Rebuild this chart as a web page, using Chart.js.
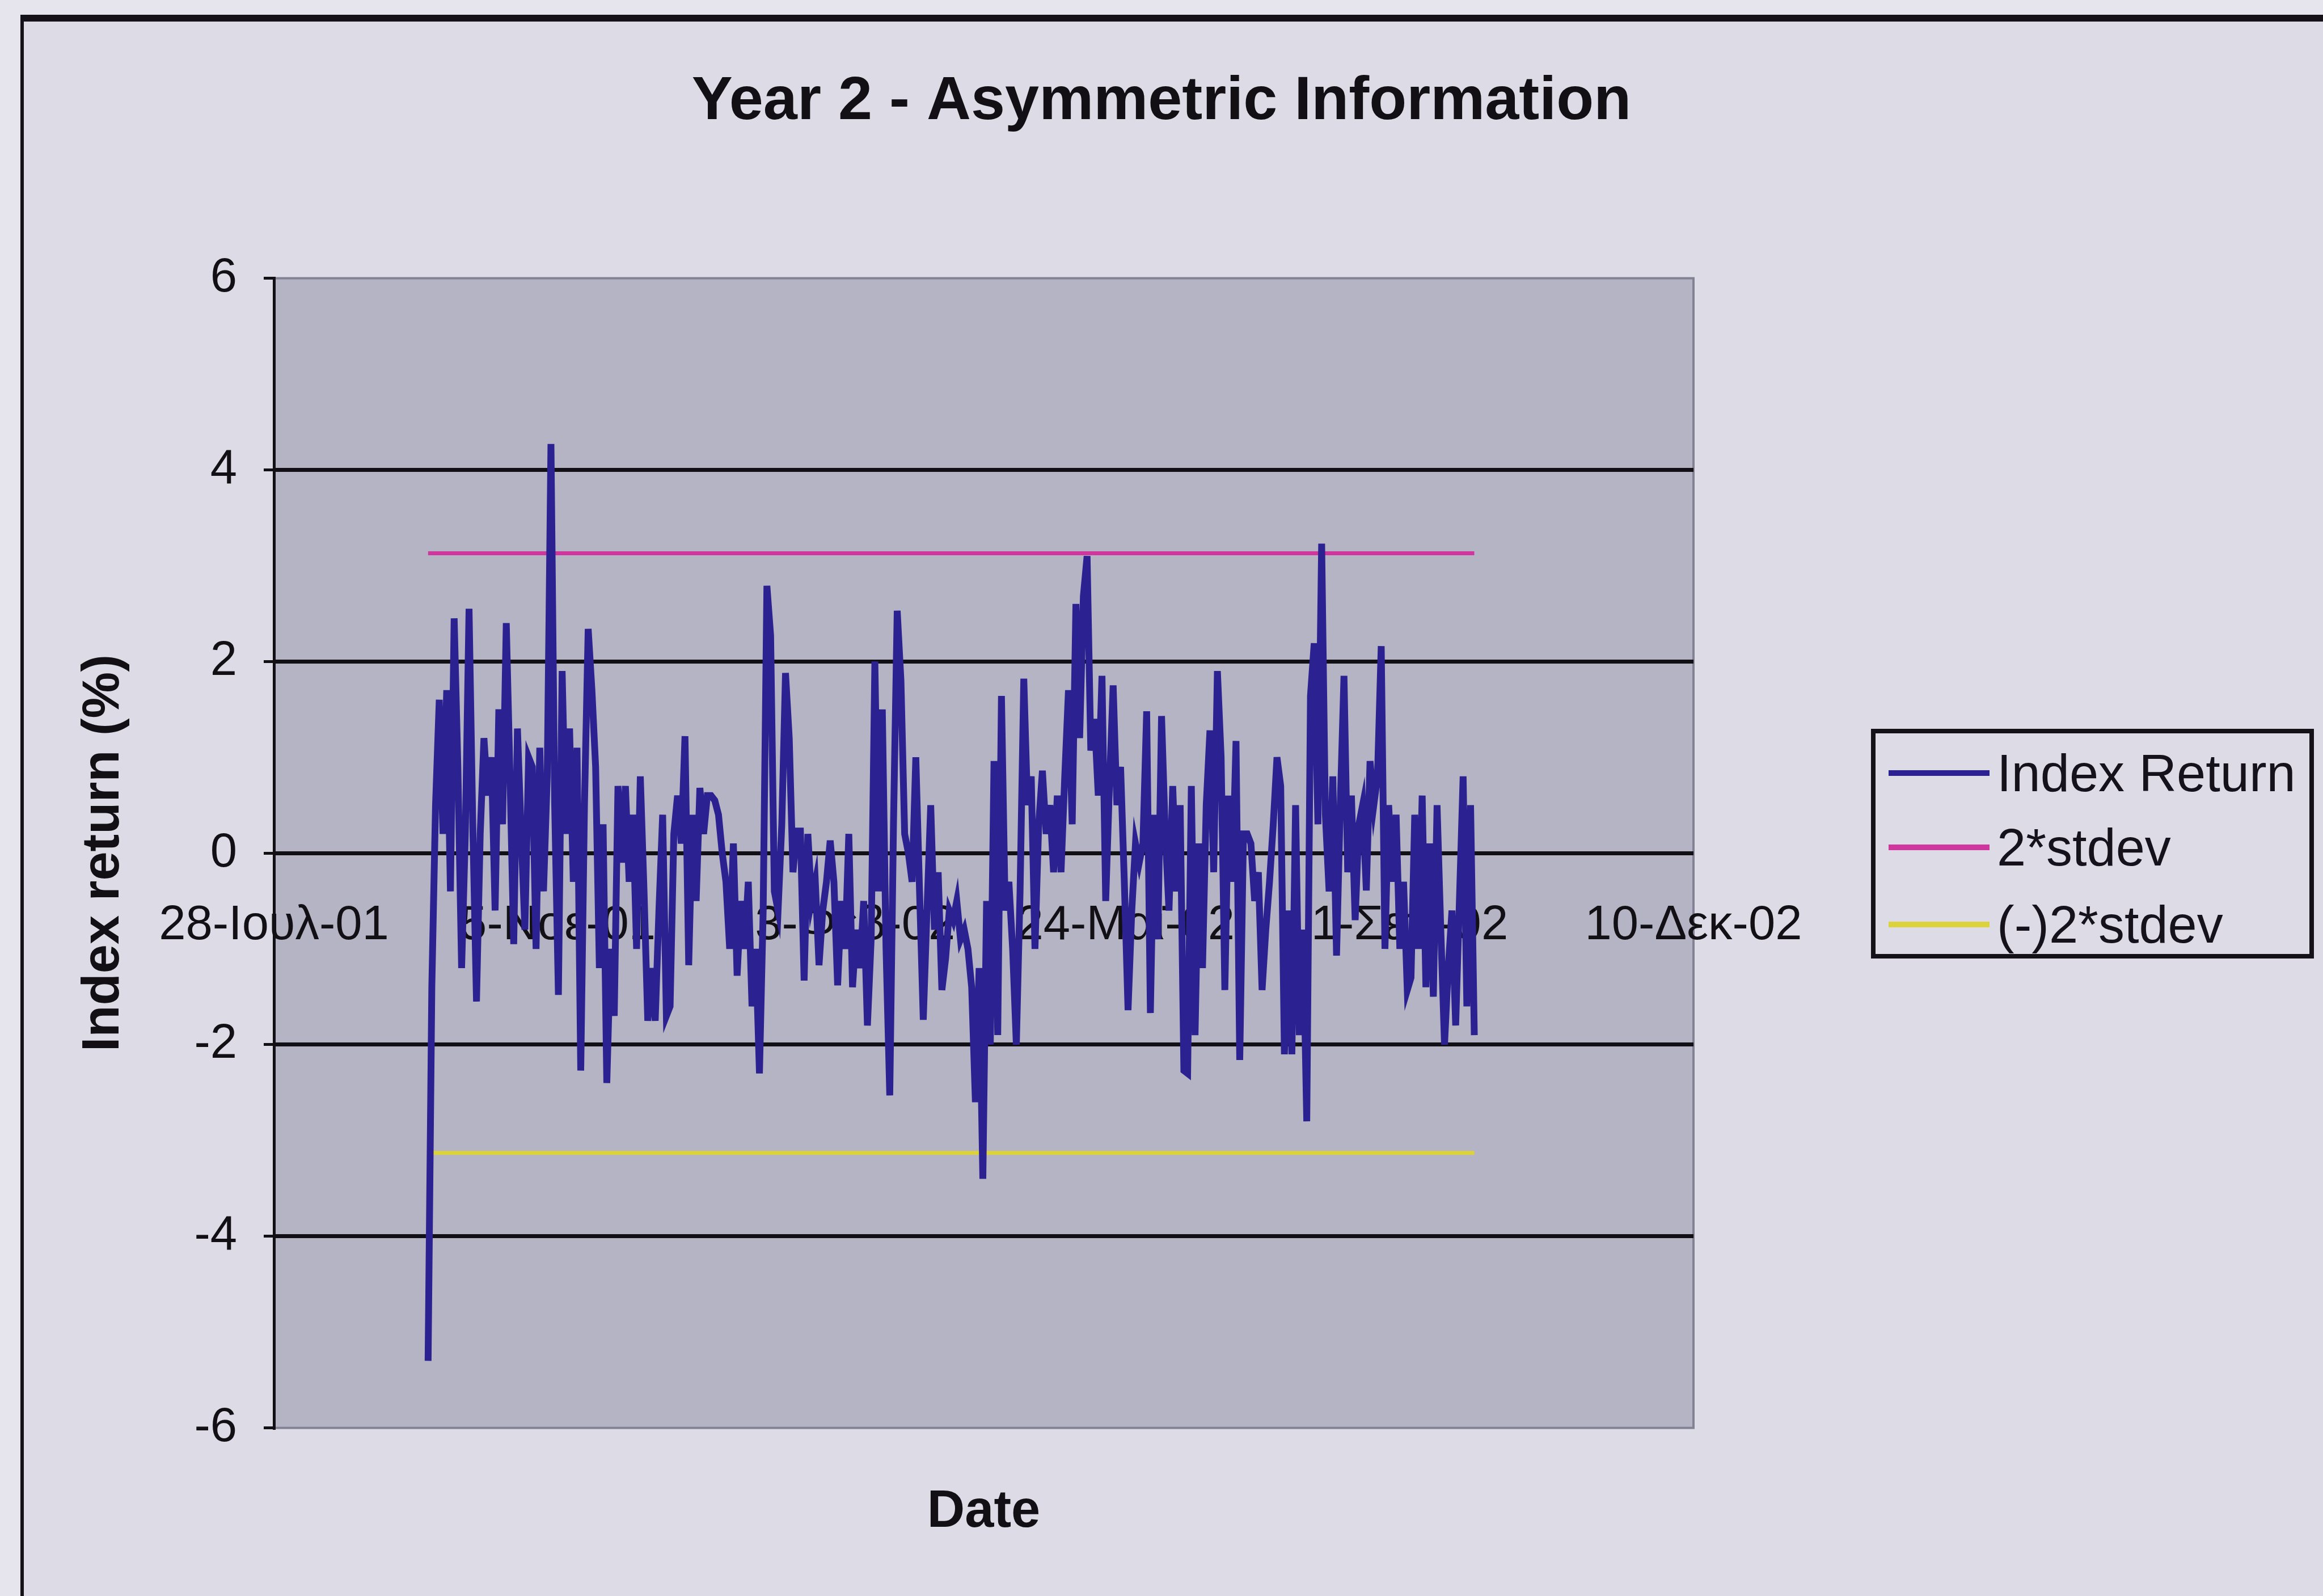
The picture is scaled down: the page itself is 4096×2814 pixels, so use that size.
<!DOCTYPE html>
<html>
<head>
<meta charset="utf-8">
<title>Year 2 - Asymmetric Information</title>
<script src="https://cdn.jsdelivr.net/npm/chart.js@4.4.1/dist/chart.umd.min.js"></script>
<style>
  html, body { margin: 0; padding: 0; background: #e6e5ee; overflow: hidden; }
  #frame { position: absolute; left: 36px; top: 26px; width: 4100px; height: 2830px;
           background: #dcdbe6; border-left: 6px solid #141218; border-top: 12px solid #141218; }
  #chart { position: absolute; left: 0; top: 0; }
  #legend { position: absolute; left: 3299px; top: 1285px; width: 765px; height: 389px;
            border: 8px solid #141218; background: #dcdbe6; font-family: "Liberation Sans", Arial, sans-serif; }
  #legend .row { position: absolute; left: 0; height: 110px; width: 100%; }
  #legend .swatch { position: absolute; left: 23px; top: 50px; width: 178px; height: 10px; }
  #legend .txt { position: absolute; left: 214px; top: 0; line-height: 110px; font-size: 92px; color: #15121c; white-space: nowrap; }
</style>
</head>
<body>
<div id="frame"></div>
<canvas id="chart" width="4096" height="2814"></canvas>
<div id="legend"></div>
<script>
// ejes
const tickDays = [0, 100, 200, 300, 400, 500];          // días desde 28-Ιουλ-01
const tickLabels = ["28-Ιουλ-01", "5-Νοε-01", "13-Φεβ-02", "24-Μαϊ-02", "1-Σεπ-02", "10-Δεκ-02"];
const yTicks = [-6, -4, -2, 0, 2, 4, 6];

// primer y último día con datos
const firstDay = 54.3;
const lastDay = 422.8;

// rendimiento diario del índice (%)
const indexReturn = [
  -5.3, -1.4, 0.5, 1.6,   0.2, 1.7, -0.4, 2.45,   0.9, -1.2, 0.2, 2.55,   0.3, -1.55, 0.2, 1.2,
  0.6, 1.0, -0.6, 1.5,    0.3, 2.4, 0.8, -0.95,   1.3, 0.2, -0.8, 1.0,    0.9, -1.0, 1.1, -0.4,
  0.8, 4.27, 0.5, -1.48,  1.9, 0.2, 1.3, -0.3,    1.1, -2.27, 0.5, 2.34,  1.7, 0.9, -1.2, 0.3,
  -2.4, -1.0, -1.7, 0.7,  -0.1, 0.7, -0.3, 0.4,   -1.0, 0.8, -0.4, -1.75, -1.2, -1.75, -0.6, 0.4,
  -1.7, -1.6, 0.2, 0.6,   0.1, 1.22, -1.17, 0.4,  -0.5, 0.68, 0.2, 0.6,   0.6, 0.55, 0.4, 0.0,
  -0.3, -1.0, 0.1, -1.28, -0.5, -1.0, -0.3, -1.6, -1.0, -2.3, -0.6, 2.79, 2.27, -0.4, -0.6, 0.3,
  1.88, 1.2, -0.2, 0.23,  0.23, -1.33, 0.2, -0.5, -0.3, -1.17, -0.6, -0.3, 0.13, -0.3, -1.38, -0.5,
  -1.0, 0.2, -1.4, -0.8,  -1.2, -0.5, -1.8, -0.9, 2.0, -0.4, 1.5, -1.0,   -2.53, 0.3, 2.53, 1.8,
  0.2, 0.0, -0.3, 1.0,    -0.4, -1.74, -0.6, 0.5, -0.8, -0.2, -1.43, -1.1, -0.6, -0.7, -0.5, -0.9,
  -0.8, -1.0, -1.4, -2.6, -1.2, -3.4, -0.5, -2.0, 0.96, -1.9, 1.64, -0.6, -0.3, -1.0, -2.0, -0.4,
  1.82, 0.5, 0.8, -1.0,   0.3, 0.86, 0.2, 0.5,    -0.2, 0.6, -0.2, 0.8,   1.7, 0.3, 2.6, 1.2,
  2.68, 3.1, 1.07, 1.4,   0.6, 1.85, -0.5, 0.7,   1.75, 0.5, 0.9, -0.3,   -1.64, -0.6, 0.1, -0.1,
  0.1, 1.48, -1.67, 0.4,  -0.9, 1.43, 0.2, -0.6,  0.7, -0.4, 0.5, -2.27,  -2.3, 0.7, -1.9, 0.1,
  -1.2, 0.5, 1.28, -0.2,  1.9, 1.0, -1.43, 0.6,   -0.3, 1.17, -2.16, 0.2, 0.2, 0.1, -0.5, -0.2,
  -1.43, -0.8, -0.3, 0.3, 1.0, 0.7, -2.1, -0.6,   -2.1, 0.5, -1.9, -0.8,  -2.8, 1.64, 2.19, 0.3,
  3.23, 0.4, -0.4, 0.8,   -1.07, 0.5, 1.85, -0.2, 0.6, -0.7, 0.3, 0.5,    -0.39, 0.96, 0.5, 0.8,
  2.16, -1.0, 0.5, -0.3,  0.4, -1.0, -0.3, -1.43, -1.3, 0.4, -1.0, 0.6,   -1.4, 0.1, -1.5, 0.5,
  -0.8, -2.0, -1.2, -0.6, -1.8, -0.5, 0.8, -1.6,  0.5, -1.9
];

// bandas de 2 desviaciones estándar
const stdevUp = 3.13;
const stdevDown = -3.13;

const seriesNames = ["Index Return", "2*stdev", "(-)2*stdev"];
const seriesColors = ["#2b2191", "#cf379f", "#dcd23c"];

const font = "'Liberation Sans', Arial, sans-serif";
const negro = "#121014";

const paso = (lastDay - firstDay) / (indexReturn.length - 1);
const puntos = indexReturn.map((v, i) => ({ x: firstDay + i * paso, y: v }));

const fondoGrafico = {
  id: "fondoGrafico",
  beforeDraw(chart) {
    const { ctx, chartArea: a } = chart;
    ctx.save();
    ctx.fillStyle = "#b5b4c4";
    ctx.fillRect(a.left, a.top, a.width, a.height);
    ctx.strokeStyle = "#838295";
    ctx.lineWidth = 4;
    ctx.strokeRect(a.left, a.top, a.width, a.height);
    ctx.restore();
  }
};

const chart = new Chart(document.getElementById("chart"), {
  type: "line",
  data: {
    datasets: [
      {
        label: seriesNames[0],
        data: puntos,
        borderColor: seriesColors[0],
        borderWidth: 12,
        pointRadius: 0,
        tension: 0
      },
      {
        label: seriesNames[1],
        data: [{ x: firstDay, y: stdevUp }, { x: lastDay, y: stdevUp }],
        borderColor: seriesColors[1],
        borderWidth: 7,
        pointRadius: 0
      },
      {
        label: seriesNames[2],
        data: [{ x: firstDay, y: stdevDown }, { x: lastDay, y: stdevDown }],
        borderColor: seriesColors[2],
        borderWidth: 7,
        pointRadius: 0
      }
    ]
  },
  options: {
    responsive: false,
    animation: false,
    devicePixelRatio: 1,
    layout: { padding: 0 },
    plugins: {
      legend: { display: false },
      tooltip: { enabled: false },
      title: {
        display: true,
        text: "Year 2 - Asymmetric Information",
        color: negro,
        font: { family: font, size: 108, weight: "bold" },
        padding: { top: 115, bottom: 246 }
      },
      subtitle: {
        display: true,
        text: "Date",
        position: "bottom",
        fullSize: false,
        color: negro,
        font: { family: font, size: 92, weight: "bold" },
        padding: { top: 94, bottom: 92 }
      }
    },
    scales: {
      x: {
        type: "linear",
        min: 0,
        max: 500,
        position: { y: 0 },
        afterBuildTicks: s => { s.ticks = tickDays.map(v => ({ value: v })); },
        ticks: {
          callback: (v, i) => tickLabels[i],
          color: negro,
          font: { family: font, size: 85 },
          padding: 69,
          maxRotation: 0,
          autoSkip: false
        },
        grid: { display: false },
        border: { display: false }
      },
      y: {
        type: "linear",
        min: -6,
        max: 6,
        afterBuildTicks: s => { s.ticks = yTicks.map(v => ({ value: v })); },
        afterFit: s => { s.width = 483; },
        ticks: {
          color: negro,
          font: { family: font, size: 85 },
          padding: 47
        },
        grid: {
          color: c => (c.tick && Math.abs(c.tick.value) === 6) ? "rgba(0,0,0,0)" : negro,
          lineWidth: 7,
          tickColor: negro,
          tickLength: 18,
          tickWidth: 5
        },
        border: { display: true, color: negro, width: 5 },
        title: {
          display: true,
          text: "Index return (%)",
          color: negro,
          font: { family: font, size: 92, weight: "bold" },
          padding: { top: 128, bottom: 0 }
        }
      },
      y2: {
        type: "linear",
        position: "right",
        afterFit: s => { s.width = 1110; },
        ticks: { display: false },
        grid: { display: false },
        border: { display: false }
      }
    }
  },
  plugins: [fondoGrafico]
});

// leyenda HTML con recuadro
const leyenda = document.getElementById("legend");
const centros = [70, 201, 337];
chart.data.datasets.forEach((ds, i) => {
  const fila = document.createElement("div");
  fila.className = "row";
  fila.style.top = (centros[i] - 55) + "px";
  fila.innerHTML = `<div class="swatch" style="background:${ds.borderColor}"></div><div class="txt">${ds.label}</div>`;
  leyenda.appendChild(fila);
});
</script>
</body>
</html>
